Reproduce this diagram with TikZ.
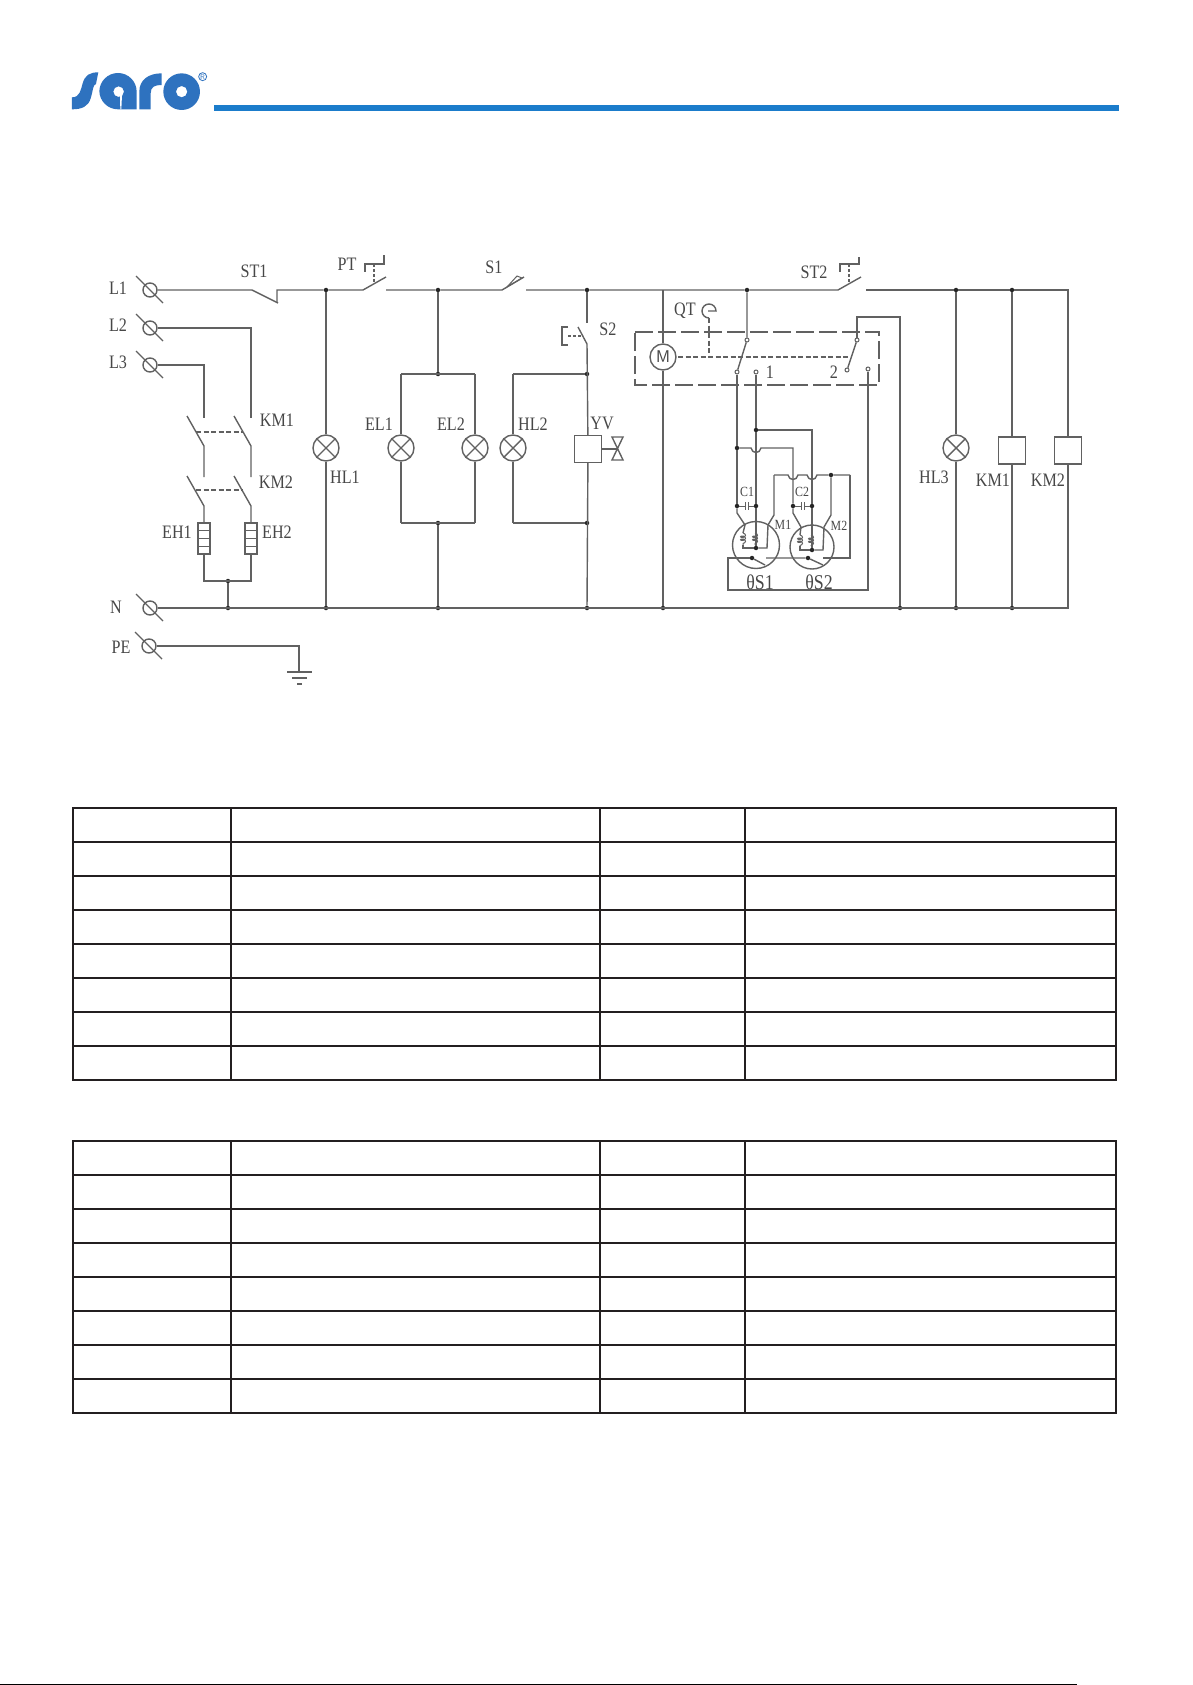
\documentclass[tikz,border=0pt]{standalone}
\usepackage{fontspec}
\setmainfont{Liberation Serif}
\usetikzlibrary{positioning,calc,decorations.pathmorphing}
\definecolor{wirecol}{gray}{0.38}
\definecolor{sarocol}{RGB}{46,114,191}
\definecolor{rulecol}{RGB}{27,124,203}
\definecolor{gridcol}{RGB}{35,31,32}
\tikzset{
	wire/.style={draw=wirecol,line width=1.4pt},
	linked/.style={wire,dash pattern=on 5pt off 2.5pt},
	longdash/.style={wire,dash pattern=on 18pt off 5pt},
	dot/.style={circle,fill=black!85,inner sep=0pt,minimum size=4.5pt},
	tiny/.style={circle,draw=wirecol,line width=1pt,fill=white,inner sep=0pt,minimum size=4pt},
	lamp/.style={circle,wire,inner sep=0pt,minimum size=26pt},
	coilbox/.style={rectangle,wire,fill=white,inner sep=0pt,minimum width=27pt,minimum height=27pt},
	heater/.style={rectangle,wire,fill=white,inner sep=0pt,minimum width=12pt,minimum height=31pt},
	term/.style={circle,wire,inner sep=0pt,minimum size=14pt},
	lbl/.style={font=\fontsize{19}{19}\selectfont,text=black!72,inner sep=0pt,xscale=.85},
	biglbl/.style={lbl,font=\fontsize{21}{21}\selectfont},
	smalllbl/.style={lbl,font=\fontsize{14}{14}\selectfont},
	gridline/.style={draw=gridcol,line width=1.8pt}
}
\newcommand{\terminal}[3]{
	\node[term] (#1) at (#2,#3) {};
	\draw[wire] (#1) ++(-14,-14) -- ++(27,27);
}
\newcommand{\lampat}[3]{
	\node[lamp] (#1) at (#2,#3) {};
	\draw[wire] (#1.45) -- (#1.225) (#1.135) -- (#1.315);
}
\begin{document}
\begin{tikzpicture}[x=1pt,y=-1pt]
	\useasboundingbox (0,0) rectangle (1192,1685);
	% logo
	\begin{scope}[shift={(60,40)},x=.3333pt,y=-.3333pt]
		\fill[sarocol] (36,208) -- (36,172) .. controls (60,172) and (62,150) .. (68,130)
			.. controls (75,105) and (90,97) .. (115,97) -- (108,132)
			.. controls (98,135) and (100,150) .. (92,175) .. controls (85,200) and (65,208) .. (36,208) -- cycle;
		\fill[sarocol,even odd rule] (118,155) arc (180:270:56) arc (270:360:56) -- (230,208) -- (174,208)
			arc (90:180:56) -- cycle (176,155) circle (16);
		\fill[white] (180,165) -- (186,165) -- (184,208) -- (181,208) -- cycle;
		\fill[sarocol] (238,208) -- (238,155) .. controls (238,120) and (265,100) .. (305,100) -- (305,135)
			.. controls (285,135) and (272,140) .. (272,160) -- (272,208) -- cycle;
		\fill[sarocol,even odd rule] (365,155) circle (55) (365,155) circle (17);
		\draw[sarocol,line width=.8pt] (428,110) circle (12);
		\node[inner sep=0pt,text=sarocol,font=\fontsize{7}{7}\selectfont\sffamily] (regmark) at (428,110) {R};
	\end{scope}
	\fill[rulecol] (214,105) rectangle (1119,111);
	% terminals
	\terminal{lone}{150}{290}
	\terminal{ltwo}{150}{328}
	\terminal{lthree}{150}{365}
	\terminal{nbus}{150}{608}
	\terminal{pe}{149}{646}
	% junctions
	\foreach \n/\x/\y in {jhla/326/290,jela/438/290,jyva/587/290,jcont/747/290,jhlc/956/290,jkma/1012/290,
		jheat/228/581,jheatn/228/608,jhln/326/608,jeln/438/608,jyvn/587/608,jmn/663/608,jretn/900/608,jhlcn/956/608,jkmn/1012/608,
		jelt/438/374,jelb/438/523,jyvt/587/374,jyvb/587/523,
		jaa/737/448,jbb/756/430,jdd/831/475,
		cal/737/506,car/756/506,cbl/793/506,cbr/812/506,
		mab/756/548,mbb/812/550,tha/752/558,thb/808/558}
		\node[dot] (\n) at (\x,\y) {};
	% named points
	\foreach \n/\x/\y in {sta/252/290,stb/278/303,stc/277/303,std/277/290,
		pta/363/290,ptb/386/277,ptc/386/290,
		sa/502/290,sb/524/277,sc/526/290,
		sta2/838/290,stb2/861/277,stc2/866/290,endt/1068/290,endb/1068/608,
		kaa/251/418,kab/234/416,kac/251/446,kad/251/477,kae/234/476,kaf/251/506,
		kba/204/418,kbb/187/416,kbc/204/446,kbd/204/477,kbe/187/476,kbf/204/506,
		dab/196/432,daa/243/432,dbb/196/490,dba/243/490,
		ehl/204/581,ehr/251/581,gnd/299/672,
		sbtop/587/323,sbblade/578/327,sbbot/587/344,
		elh/401/374,erh/475/374,elb/401/523,erb/475/523,hbt/513/374,hbb/513/523,
		retu/857/317,retr/900/317,loopd/868/590,loopl/728/590,loopt/728/558,
		loopr/850/558,loopu/850/475,humpl/774/475,mtop/663/290}
		\coordinate (\n) at (\x,\y);
	% lamps and coils
	\lampat{hlone}{326}{448}
	\lampat{elone}{401}{448}
	\lampat{eltwo}{475}{448}
	\lampat{hltwo}{513}{448}
	\lampat{hlthree}{956}{448}
	\node[coilbox] (yv) at (588,449) {};
	\node[coilbox] (kmone) at (1012,450.5) {};
	\node[coilbox] (kmtwo) at (1068,450.5) {};
	\node[heater] (ehone) at (204,538.5) {};
	\node[heater] (ehtwo) at (251,538.5) {};
	\node[lamp] (motor) at (663,357) {};
	\foreach \h in {ehone,ehtwo}
		\foreach \f in {.25,.5,.75}
			\draw[wire,line width=1pt] ($(\h.north west)!\f!(\h.south west)$) -- ($(\h.north east)!\f!(\h.south east)$);
	% main line
	\draw[wire] (lone) -- (sta) -- (stb);
	\draw[wire] (stc) -- (std) -- (jhla) -- (pta) -- (ptb);
	\draw[wire] (ptc) -- (jela) -- (sa) -- (sb);
	\draw[wire] (sc) -- (jyva) -- (jcont) -- (sta2) -- (stb2);
	\draw[wire] (stc2) -- (jhlc) -- (jkma) -- (endt) -- (kmtwo);
	\draw[wire] (kmtwo) -- (endb) -- (nbus);
	\draw[wire] (ltwo) -| (kaa);
	\draw[wire] (lthree) -| (kba);
	\draw[wire] (pe) -| (gnd);
	% contactors
	\draw[wire] (kab) -- (kac) -- (kad);
	\draw[wire] (kae) -- (kaf) -- (ehtwo);
	\draw[wire] (kbb) -- (kbc) -- (kbd);
	\draw[wire] (kbe) -- (kbf) -- (ehone);
	\path[linked] (dab) edge (daa) (dbb) edge (dba);
	\draw[wire] (ehone) -- (ehl) -- (ehr) -- (ehtwo);
	\path[wire] (jheat) edge (jheatn);
	% branches
	\path[wire]
		(jhla) edge (hlone)
		(hlone) edge (jhln)
		(jela) edge (jelt)
		(jelb) edge (jeln)
		(jyva) edge (sbtop)
		(sbbot) edge (yv)
		(yv) edge (jyvn)
		(jhlc) edge (hlthree)
		(hlthree) edge (jhlcn)
		(jkma) edge (kmone)
		(kmone) edge (jkmn);
	\draw[wire] (sbblade) -- (sbbot);
	\draw[wire] (elh) -- (erh) (elb) -- (erb);
	\path[wire]
		(elh) edge (elone)
		(elone) edge (elb)
		(erh) edge (eltwo)
		(eltwo) edge (erb)
		(hbt) edge (hltwo)
		(hltwo) edge (hbb);
	\draw[wire] (hbt) -- (jyvt) (hbb) -- (jyvb);
	% ground
	\draw[wire] (287,672) coordinate (gndl) -- (312,672) coordinate (gndr);
	\draw[wire] (292,678) coordinate (gndm) -- (307,678) coordinate (gndn);
	\draw[wire] (297,684) coordinate (gndo) -- (302,684) coordinate (gndp);
	% push button and switches
	\draw[wire] (365,272) coordinate (pba) -- (365,264) -- (384,264) -- (384,255) coordinate (pbb);
	\draw[linked,dash pattern=on 3pt off 2pt] (374,264) coordinate (pbc) -- (374,283) coordinate (pbd);
	\draw[wire] (840,272) coordinate (pca) -- (840,264) -- (859,264) -- (859,257) coordinate (pcb);
	\draw[linked,dash pattern=on 3pt off 2pt] (849,264) coordinate (pcc) -- (849,283) coordinate (pcd);
	\draw[wire,line width=1pt] (507,287) coordinate (sla) -- (517,276) coordinate (slb) -- (522,278) coordinate (slc) -- cycle;
	\draw[wire] (568,327) coordinate (sga) -- (562,327) -- (562,345) -- (568,345) coordinate (sgb);
	\draw[linked,dash pattern=on 3pt off 2pt] (568,336) coordinate (sgc) -- (583,336) coordinate (sgd);
	% valve
	\draw[wire] (yv) -- (617.5,449) coordinate (vlvc);
	\draw[wire] (612,437) coordinate (vla) -- (623,437) -- (612,460) -- (623,460) -- cycle;
	% timer box
	\draw[longdash] (635,332) -- (879,332) -- (879,385) -- (635,385) -- cycle;
	\draw[wire] (mtop) -- (motor);
	\draw[wire] (motor) -- (jmn);
	\node[inner sep=0pt,font=\fontsize{17}{17}\selectfont\sffamily,text=black!72] (motorm) at (663,357) {M};
	\draw[wire] (709,318) coordinate (qta) arc (90:360:7) -- ++(-8,0);
	\draw[linked] (678,357) coordinate (qtb) -- (852,357) coordinate (qtc);
	\draw[linked] (qta) -- (709,357) coordinate (qtd);
	% contacts
	\foreach \n/\x/\y in {cna/747/340,cnb/737/372,cnc/756/372,cnd/857/340,cne/847/370,cnf/868/369}
		\node[tiny] (\n) at (\x,\y) {};
	\draw[wire] (jcont) -- (cna) -- (cnb);
	\draw[wire] (cnd) -- (cne);
	\draw[wire] (cnd) -- (retu) -- (retr) -- (jretn);
	\draw[wire] (cnb) -- (jaa) -- (cal);
	\draw[wire] (cnc) -- (jbb) -- (car);
	\draw[wire] (cnf) -- (loopd) -- (loopl) -- (loopt) -- (tha);
	% hopped cross wires
	\draw[wire] (jaa) -- (751,448) .. controls (752,454) and (760,454) .. (761,448) -- (793,448) coordinate (hopa) -- (cbl);
	\draw[wire] (jbb) -| (cbr);
	\draw[wire] (humpl) -- (788,475) .. controls (789,481) and (797,481) .. (798,475) -- (807,475)
		.. controls (808,481) and (816,481) .. (817,475) -- (jdd) -- (loopu);
	\draw[wire] (humpl) -- (774,515) coordinate (hdiaa) -- (768,525) coordinate (hdiab) -- (767,548) coordinate (hdiac) -- (mab);
	\draw[wire] (jdd) -- (831,515) coordinate (hdiad) -- (824,527) coordinate (hdiae) -- (823,550) coordinate (hdiaf) -- (mbb);
	\draw[wire] (cal) -- (737,513) coordinate (cala) -- (745,525) coordinate (calb) -- (743,533) coordinate (calc);
	\draw[wire] (cbl) -- (793,513) coordinate (cbla) -- (801,527) coordinate (cblb) -- (800,535) coordinate (cblc);
	\draw[wire] (car) -- (mab);
	\draw[wire] (cbr) -- (mbb);
	% capacitors
	\foreach \a/\b/\m in {cal/car/746.5,cbl/cbr/802.5}{
		\draw[wire,line width=1pt] (\a) -- (\m-1.5,506) (\m+1.5,506) -- (\b);
		\draw[wire,line width=1pt] (\m-1.5,502) -- (\m-1.5,510) (\m+1.5,502) -- (\m+1.5,510);
	}
	% motors with windings
	\node[circle,wire,inner sep=0pt,minimum size=47pt] (mone) at (756,545) {};
	\node[circle,wire,inner sep=0pt,minimum size=44pt] (mtwo) at (812,547) {};
	\foreach \x/\s/\e in {743/533/545,755/533/545,800/535/546,811/535/546}{
		\draw[wire,line width=1pt,decorate,decoration={coil,aspect=.6,amplitude=2.5pt,segment length=3pt}] (\x,\s) -- (\x,\e);
	}
	\draw[wire] (743,545) coordinate (wia) -- (743,548) -- (mab);
	\draw[wire] (800,546) coordinate (wib) -- (800,550) -- (mbb);
	% thermal contacts
	\draw[wire] (tha) -- (765,565) coordinate (thc);
	\draw[wire] (766,558) coordinate (thd) -- (thb) -- (823,565) coordinate (the);
	\draw[wire] (823,558) coordinate (thf) -- (loopr) -- (loopu);
	% labels
	\foreach \n/\x/\y/\t in {a/118/288/L1,b/118/325/L2,c/118/362/L3,d/116/607/N,e/121/647/PE,
		f/254/271/ST1,g/347/264/PT,h/494/267/S1,i/608/329/S2,j/277/420/KM1,k/276/482/KM2,
		l/177/532/EH1,m/277/532/EH2,n/345/477/HL1,o/379/424/EL1,p/451/424/EL2,q/533/424/HL2,
		r/602/423/YV,s/685/311/QT,t/814/272/ST2,u/770/372/1,v/834/372/2,
		w/934/477/HL3,x/993/480/KM1,y/1048/480/KM2}
		\node[lbl] (lb\n) at (\x,\y) {\t};
	\node[biglbl] (lbz) at (760,582) {θS1};
	\node[biglbl] (lbaa) at (819,582) {θS2};
	\foreach \n/\x/\y/\t in {a/747/492/C1,b/802/492/C2,c/783/525/M1,d/839/526/M2}
		\node[smalllbl] (sl\n) at (\x,\y) {\t};
	% tables
	\foreach \t/\b in {808/1080,1141/1413}{
		\draw[gridline] (73,\t) rectangle (1116,\b);
		\foreach \r in {1,...,7}
			\draw[gridline] (73,\t+34*\r) -- (1116,\t+34*\r);
		\foreach \c in {231,600,745}
			\draw[gridline] (\c,\t) -- (\c,\b);
	}
	\draw[black,line width=1pt] (0,1684.5) coordinate (footl) -- (1077,1684.5) coordinate (footr);
\end{tikzpicture}
\end{document}
